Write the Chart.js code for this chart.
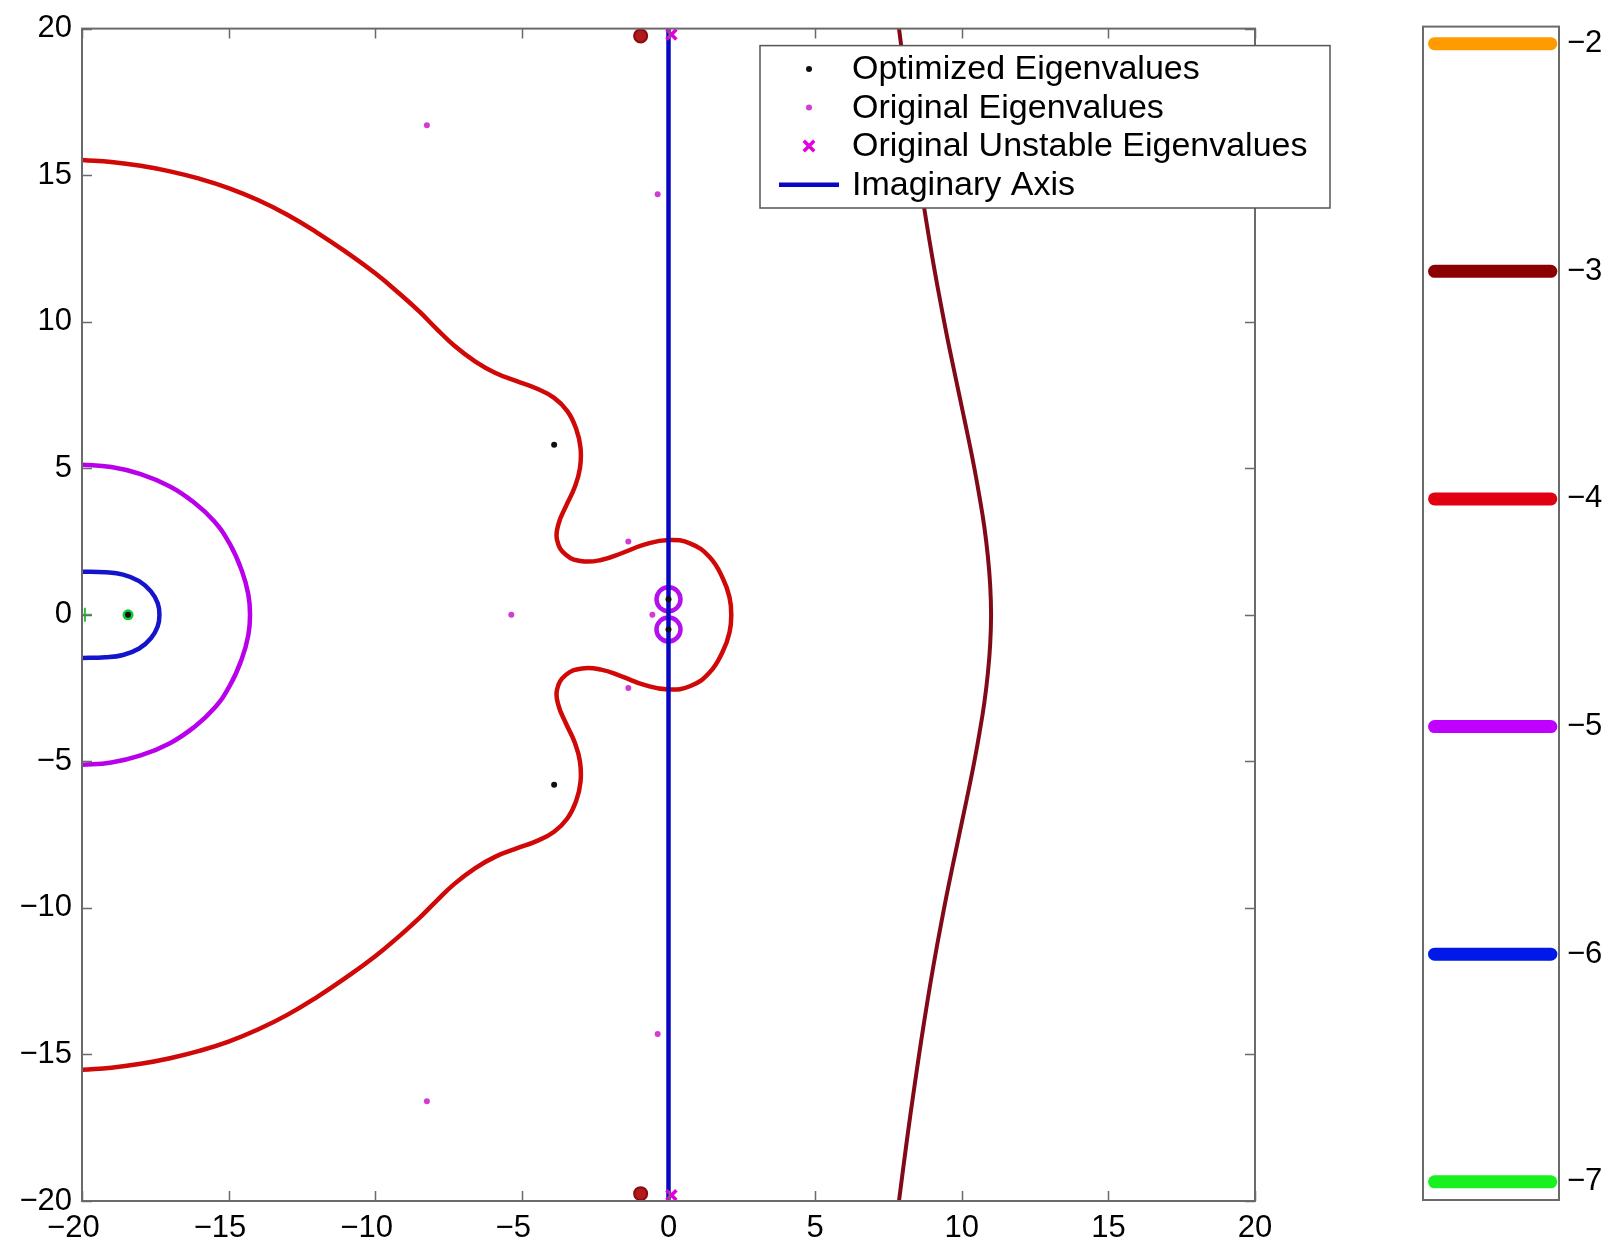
<!DOCTYPE html>
<html>
<head>
<meta charset="utf-8">
<title>Pseudospectra contours</title>
<script src="https://cdn.jsdelivr.net/npm/chart.js@4.4.1/dist/chart.umd.min.js"></script>
<style>
  html, body { margin: 0; padding: 0; background: #ffffff; }
  #wrap { position: relative; width: 1608px; height: 1250px; overflow: hidden; }
  #main { position: absolute; left: 0; top: 0; }
  #cbar { position: absolute; left: 1400px; top: 0; }
</style>
</head>
<body>
<div id="wrap">
  <canvas id="main" width="1400" height="1250"></canvas>
  <canvas id="cbar" width="208" height="1250"></canvas>
</div>
<script>
// ---- axis ticks -------------------------------------------------------
const axisTicks = [-20, -15, -10, -5, 0, 5, 10, 15, 20];

// ---- contour levels (log10 epsilon) and their colours ----------------
const levels = [-2, -3, -4, -5, -6, -7];
const levelColors = ['#ff9a00', '#8b0000', '#e00012', '#c000ff', '#0018e8', '#18f020'];

// ---- contour lines in the complex plane (Re, Im) ----------------------
// level -3: the right-hand curve
const contourM3 = [
  {x: 7.81, y: 20.4}, {x: 7.86, y: 20}, {x: 8.12, y: 18}, {x: 8.4, y: 16},
  {x: 8.7, y: 14}, {x: 9.03, y: 12}, {x: 9.4, y: 10}, {x: 9.6, y: 9},
  {x: 9.81, y: 8}, {x: 10.02, y: 7}, {x: 10.23, y: 6}, {x: 10.43, y: 5},
  {x: 10.61, y: 4}, {x: 10.77, y: 3}, {x: 10.89, y: 2}, {x: 10.97, y: 1},
  {x: 11.0, y: 0},
  {x: 10.97, y: -1}, {x: 10.89, y: -2}, {x: 10.77, y: -3}, {x: 10.61, y: -4},
  {x: 10.43, y: -5}, {x: 10.23, y: -6}, {x: 10.02, y: -7}, {x: 9.81, y: -8},
  {x: 9.6, y: -9}, {x: 9.4, y: -10}, {x: 9.03, y: -12}, {x: 8.7, y: -14},
  {x: 8.4, y: -16}, {x: 8.12, y: -18}, {x: 7.86, y: -20}, {x: 7.81, y: -20.4}
];
// level -3: small loops near +/-20i
const blobsM3 = [{x: -0.95, y: 19.75}, {x: -0.95, y: -19.75}];

// level -4: the large lobed curve
const contourM4 = [
  {x: -20.3, y: 15.55}, {x: -20, y: 15.52}, {x: -19, y: 15.45}, {x: -18, y: 15.32},
  {x: -17, y: 15.13}, {x: -16, y: 14.88}, {x: -15, y: 14.56}, {x: -14, y: 14.15},
  {x: -13, y: 13.65}, {x: -12, y: 13.05}, {x: -11, y: 12.38}, {x: -10, y: 11.65},
  {x: -9.2, y: 10.98}, {x: -8.5, y: 10.35}, {x: -7.9, y: 9.75}, {x: -7.3, y: 9.18},
  {x: -6.6, y: 8.65}, {x: -5.9, y: 8.25}, {x: -5.2, y: 7.98}, {x: -4.5, y: 7.72},
  {x: -3.9, y: 7.4}, {x: -3.45, y: 6.95}, {x: -3.15, y: 6.35}, {x: -3.0, y: 5.7},
  {x: -3.02, y: 5.0}, {x: -3.2, y: 4.35}, {x: -3.5, y: 3.7}, {x: -3.75, y: 3.1},
  {x: -3.8, y: 2.55}, {x: -3.5, y: 2.05}, {x: -2.95, y: 1.83}, {x: -2.3, y: 1.87},
  {x: -1.6, y: 2.1}, {x: -0.8, y: 2.4}, {x: 0, y: 2.55}, {x: 0.75, y: 2.43},
  {x: 1.4, y: 1.97}, {x: 1.85, y: 1.25}, {x: 2.08, y: 0.6}, {x: 2.14, y: 0},
  {x: 2.08, y: -0.6}, {x: 1.85, y: -1.25}, {x: 1.4, y: -1.97}, {x: 0.75, y: -2.43},
  {x: 0, y: -2.55}, {x: -0.8, y: -2.4}, {x: -1.6, y: -2.1}, {x: -2.3, y: -1.87},
  {x: -2.95, y: -1.83}, {x: -3.5, y: -2.05}, {x: -3.8, y: -2.55}, {x: -3.75, y: -3.1},
  {x: -3.5, y: -3.7}, {x: -3.2, y: -4.35}, {x: -3.02, y: -5.0}, {x: -3.0, y: -5.7},
  {x: -3.15, y: -6.35}, {x: -3.45, y: -6.95}, {x: -3.9, y: -7.4}, {x: -4.5, y: -7.72},
  {x: -5.2, y: -7.98}, {x: -5.9, y: -8.25}, {x: -6.6, y: -8.65}, {x: -7.3, y: -9.18},
  {x: -7.9, y: -9.75}, {x: -8.5, y: -10.35}, {x: -9.2, y: -10.98}, {x: -10, y: -11.65},
  {x: -11, y: -12.38}, {x: -12, y: -13.05}, {x: -13, y: -13.65}, {x: -14, y: -14.15},
  {x: -15, y: -14.56}, {x: -16, y: -14.88}, {x: -17, y: -15.13}, {x: -18, y: -15.32},
  {x: -19, y: -15.45}, {x: -20, y: -15.52}, {x: -20.3, y: -15.55}
];

// level -5: half ring on the left and two small rings at the origin
const contourM5 = [
  {x: -20.3, y: 5.13}, {x: -20, y: 5.12}, {x: -19, y: 5.04}, {x: -18, y: 4.8},
  {x: -17, y: 4.38}, {x: -16.2, y: 3.85}, {x: -15.5, y: 3.2}, {x: -14.95, y: 2.4},
  {x: -14.55, y: 1.5}, {x: -14.33, y: 0.7}, {x: -14.27, y: 0},
  {x: -14.33, y: -0.7}, {x: -14.55, y: -1.5}, {x: -14.95, y: -2.4}, {x: -15.5, y: -3.2},
  {x: -16.2, y: -3.85}, {x: -17, y: -4.38}, {x: -18, y: -4.8}, {x: -19, y: -5.04},
  {x: -20, y: -5.12}, {x: -20.3, y: -5.13}
];
const ringsM5 = [{x: 0, y: 0.53}, {x: 0, y: -0.5}];

// level -6: small loop at the left edge
const contourM6 = [
  {x: -20.3, y: 1.47}, {x: -20, y: 1.47}, {x: -19.2, y: 1.45}, {x: -18.6, y: 1.37},
  {x: -18.05, y: 1.15}, {x: -17.65, y: 0.8}, {x: -17.42, y: 0.4}, {x: -17.36, y: 0},
  {x: -17.42, y: -0.4}, {x: -17.65, y: -0.8}, {x: -18.05, y: -1.15}, {x: -18.6, y: -1.37},
  {x: -19.2, y: -1.45}, {x: -20, y: -1.47}, {x: -20.3, y: -1.47}
];

// level -7: tiny loops
const spotsM7 = [{x: -18.43, y: 0}];
const crossM7 = [{x: -19.9, y: 0}];

// ---- eigenvalues -----------------------------------------------------
const optimized = [
  {x: -3.9, y: 5.8}, {x: -3.9, y: -5.8}, {x: 0, y: 0.53}, {x: 0, y: -0.5},
  {x: -18.43, y: 0}
];
const original = [
  {x: -8.24, y: 16.7}, {x: -8.24, y: -16.6}, {x: -0.37, y: 14.35}, {x: -0.37, y: -14.3},
  {x: -5.36, y: 0}, {x: -1.37, y: 2.5}, {x: -1.37, y: -2.5}, {x: -0.55, y: 0}
];
const unstable = [{x: 0.1, y: 19.8}, {x: 0.1, y: -19.8}];
const imagAxis = [{x: 0, y: -20}, {x: 0, y: 20}];

const legendLabels = ['Optimized Eigenvalues', 'Original Eigenvalues',
  'Original Unstable Eigenvalues', 'Imaginary Axis'];

// ---- helpers ---------------------------------------------------------
const FONT_FAMILY = '"Liberation Sans", Arial, Helvetica, sans-serif';
const fmt = v => (v < 0 ? '\u2212' + Math.abs(v) : String(v));

// axes box with inward tick marks (all four sides)
const framePlugin = {
  id: 'frame',
  afterDatasetsDraw(chart, args, o) {
    const {ctx, chartArea: a, scales} = chart;
    ctx.save();
    ctx.strokeStyle = o.color;
    ctx.lineWidth = o.width;
    ctx.strokeRect(a.left, a.top, a.right - a.left, a.bottom - a.top);
    const L = o.tickLength || 0;
    if (L > 0) {
      ctx.beginPath();
      if (scales.x && scales.x.options.display !== false) {
        for (const t of scales.x.ticks) {
          const px = Math.round(scales.x.getPixelForValue(t.value)) + 0.5;
          ctx.moveTo(px, a.bottom); ctx.lineTo(px, a.bottom - L);
          ctx.moveTo(px, a.top); ctx.lineTo(px, a.top + L);
        }
      }
      for (const t of scales.y.ticks) {
        const py = Math.round(scales.y.getPixelForValue(t.value)) + 0.5;
        ctx.moveTo(a.left, py); ctx.lineTo(a.left + L, py);
        ctx.moveTo(a.right, py); ctx.lineTo(a.right - L, py);
      }
      ctx.lineWidth = o.tickWidth;
      ctx.stroke();
    }
    ctx.restore();
  }
};

// boxed legend inside the axes
const legendBox = {
  id: 'legendBox',
  afterDraw(chart, args, o) {
    const {ctx, chartArea: a} = chart;
    const items = chart.data.datasets.filter(d => d.legendEntry);
    const x0 = a.left + o.left, y0 = a.top + o.top;
    const w = o.width, h = o.rowHeight * items.length + o.padY * 2;
    ctx.save();
    ctx.fillStyle = '#ffffff';
    ctx.fillRect(x0, y0, w, h);
    ctx.strokeStyle = o.borderColor;
    ctx.lineWidth = o.borderWidth;
    ctx.strokeRect(x0, y0, w, h);
    ctx.font = o.font;
    ctx.textBaseline = 'middle';
    ctx.textAlign = 'left';
    items.forEach((d, i) => {
      const cy = y0 + o.padY + o.rowHeight * (i + 0.5);
      const sx = x0 + o.symbolX;
      if (d.showLine) {
        ctx.strokeStyle = d.borderColor;
        ctx.lineWidth = d.borderWidth;
        ctx.beginPath();
        ctx.moveTo(sx - o.lineHalf, cy); ctx.lineTo(sx + o.lineHalf, cy);
        ctx.stroke();
      } else if (d.pointStyle === 'crossRot') {
        const r = d.pointRadius * 0.75;
        ctx.strokeStyle = d.borderColor;
        ctx.lineWidth = d.pointBorderWidth;
        ctx.beginPath();
        ctx.moveTo(sx - r, cy - r); ctx.lineTo(sx + r, cy + r);
        ctx.moveTo(sx + r, cy - r); ctx.lineTo(sx - r, cy + r);
        ctx.stroke();
      } else {
        ctx.fillStyle = d.backgroundColor;
        ctx.beginPath();
        ctx.arc(sx, cy, d.pointRadius, 0, Math.PI * 2);
        ctx.fill();
      }
      ctx.fillStyle = '#000000';
      ctx.fillText(d.label, x0 + o.textX, cy + 1);
    });
    ctx.restore();
  }
};

const tickFont = {family: FONT_FAMILY, size: 31};

// ---- main axes -------------------------------------------------------
const curve = (data, color, width) => ({
  data, showLine: true, fill: false, borderColor: color, borderWidth: width,
  pointRadius: 0, tension: 0.45, clip: 0
});

new Chart(document.getElementById('main'), {
  type: 'scatter',
  data: {
    datasets: [
      {label: legendLabels[0], legendEntry: true, data: optimized, pointStyle: 'circle',
       pointRadius: 3, backgroundColor: '#101010', borderColor: '#101010', pointBorderWidth: 0, order: 1},
      {label: legendLabels[1], legendEntry: true, data: original, pointStyle: 'circle',
       pointRadius: 3, backgroundColor: '#d23cd2', borderColor: '#d23cd2', pointBorderWidth: 0, order: 2},
      {label: legendLabels[2], legendEntry: true, data: unstable, pointStyle: 'crossRot',
       pointRadius: 7, pointBorderWidth: 3.5, borderColor: '#e000e0', backgroundColor: '#e000e0', order: 3},
      {label: legendLabels[3], legendEntry: true, data: imagAxis, showLine: true,
       borderColor: '#0808c0', borderWidth: 4.5, pointRadius: 0, clip: 0, order: 4},
      {label: 'level -7 spot', data: spotsM7, pointStyle: 'circle', pointRadius: 5.5,
       backgroundColor: '#12c830', borderColor: '#12c830', pointBorderWidth: 0, order: 5},
      {label: 'level -7 cross', data: crossM7, pointStyle: 'cross', pointRadius: 7,
       pointBorderWidth: 2, borderColor: '#30c040', backgroundColor: '#30c040', order: 5},
      {label: 'level -5 rings', data: ringsM5, pointStyle: 'circle', pointRadius: 12,
       pointBorderWidth: 4.5, borderColor: '#b410ee', backgroundColor: 'rgba(0,0,0,0)', order: 6},
      {label: 'level -3 loops', data: blobsM3, pointStyle: 'circle', pointRadius: 6.5,
       pointBorderWidth: 2, borderColor: '#8a0a10', backgroundColor: '#b01a1a', order: 6},
      Object.assign(curve(contourM3, '#820a18', 4), {label: 'level -3', order: 7}),
      Object.assign(curve(contourM4, '#d00808', 4.5), {label: 'level -4', order: 8}),
      Object.assign(curve(contourM5, '#b800ea', 4.5), {label: 'level -5', order: 9}),
      Object.assign(curve(contourM6, '#1414cc', 4.5), {label: 'level -6', order: 10})
    ]
  },
  options: {
    responsive: false,
    animation: false,
    events: [],
    layout: {padding: {left: 0, top: 25, right: 145, bottom: 0}},
    scales: {
      x: {
        type: 'linear', min: -20, max: 20,
        afterBuildTicks(s) { s.ticks = axisTicks.map(v => ({value: v})); },
        afterFit(s) { s.height = 49; },
        grid: {display: false, drawTicks: false},
        border: {display: false},
        ticks: {
          font: tickFont, color: '#000000', padding: 9, maxRotation: 0, autoSkip: false,
          // digits sit centred on the tick, the minus sign hangs to the left
          callback: v => (v < 0 ? fmt(v) + '\u2007' : fmt(v))
        }
      },
      y: {
        type: 'linear', min: -20, max: 20,
        afterBuildTicks(s) { s.ticks = axisTicks.map(v => ({value: v})); },
        afterFit(s) { s.width = 82; },
        grid: {display: false, drawTicks: false},
        border: {display: false},
        ticks: {font: tickFont, color: '#000000', padding: 10, autoSkip: false, callback: v => fmt(v)}
      }
    },
    plugins: {
      legend: {display: false},
      tooltip: {enabled: false},
      frame: {color: '#6a6a6a', width: 2, tickLength: 10, tickWidth: 1.5},
      legendBox: {
        left: 678, top: 17, width: 570, rowHeight: 38.6, padY: 4,
        symbolX: 49, lineHalf: 30, textX: 92,
        font: '34px ' + FONT_FAMILY, borderColor: '#555555', borderWidth: 1.5
      }
    }
  },
  plugins: [framePlugin, legendBox]
});

// ---- colour bar ------------------------------------------------------
new Chart(document.getElementById('cbar'), {
  type: 'scatter',
  data: {
    datasets: levels.map((lv, i) => ({
      label: fmt(lv),
      data: [{x: 0.085, y: lv}, {x: 0.94, y: lv}],
      showLine: true, borderColor: levelColors[i], borderWidth: 13,
      borderCapStyle: 'round', pointRadius: 0
    }))
  },
  options: {
    responsive: false,
    animation: false,
    events: [],
    layout: {padding: {left: 23, top: 25, right: 0, bottom: 50}},
    scales: {
      x: {type: 'linear', min: 0, max: 1, display: false},
      y: {
        type: 'linear', position: 'right', min: -7.08, max: -1.925,
        afterBuildTicks(s) { s.ticks = levels.map(v => ({value: v})); },
        afterFit(s) { s.width = 49; },
        grid: {display: false, drawTicks: false},
        border: {display: false},
        ticks: {font: tickFont, color: '#000000', padding: 8, autoSkip: false, callback: v => fmt(v)}
      }
    },
    plugins: {
      legend: {display: false},
      tooltip: {enabled: false},
      frame: {color: '#6a6a6a', width: 2, tickLength: 0, tickWidth: 1.5}
    }
  },
  plugins: [framePlugin]
});
</script>
</body>
</html>
